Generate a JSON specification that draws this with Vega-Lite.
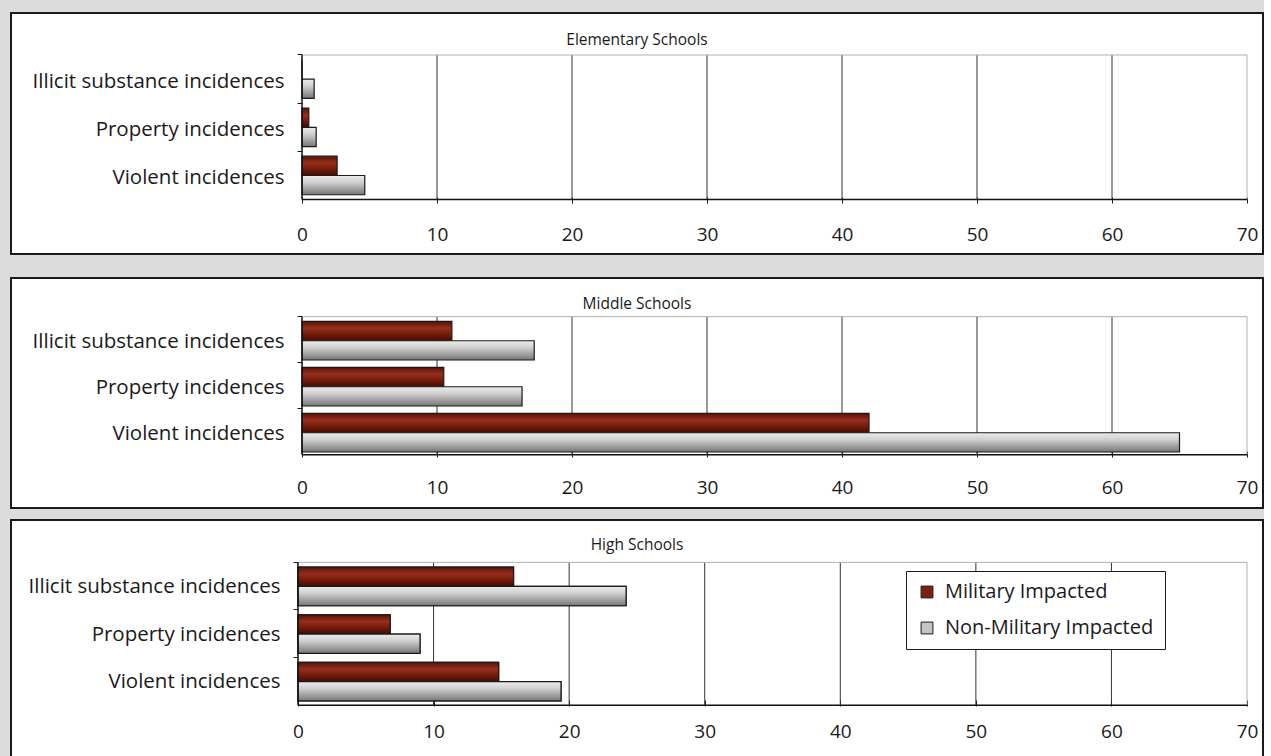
{
  "$schema": "https://vega.github.io/schema/vega-lite/v6.json",
  "background": "#dcdcdc",
  "padding": {"left": 10, "top": 12, "right": 0, "bottom": 0},
  "config": {
    "font": "Open Sans",
    "view": {"fill": "white", "stroke": "#1a1a1a", "strokeWidth": 2},
    "axis": {"labelFont": "Open Sans", "labelColor": "#1a1a1a", "tickColor": "#1a1a1a", "labelFontSize": 20.5},
    "title": {"font": "Open Sans", "fontSize": 15.5, "fontWeight": "normal", "color": "#1a1a1a"}
  },
  "datasets": {
    "incidents": [
      {"level": "Elementary", "category": "Illicit substance incidences", "series": "Military Impacted", "value": 0},
      {"level": "Elementary", "category": "Illicit substance incidences", "series": "Non-Military Impacted", "value": 0.9},
      {"level": "Elementary", "category": "Property incidences", "series": "Military Impacted", "value": 0.5},
      {"level": "Elementary", "category": "Property incidences", "series": "Non-Military Impacted", "value": 1.05},
      {"level": "Elementary", "category": "Violent incidences", "series": "Military Impacted", "value": 2.6},
      {"level": "Elementary", "category": "Violent incidences", "series": "Non-Military Impacted", "value": 4.65},
      {"level": "Middle", "category": "Illicit substance incidences", "series": "Military Impacted", "value": 11.1},
      {"level": "Middle", "category": "Illicit substance incidences", "series": "Non-Military Impacted", "value": 17.2},
      {"level": "Middle", "category": "Property incidences", "series": "Military Impacted", "value": 10.5},
      {"level": "Middle", "category": "Property incidences", "series": "Non-Military Impacted", "value": 16.3},
      {"level": "Middle", "category": "Violent incidences", "series": "Military Impacted", "value": 42.0},
      {"level": "Middle", "category": "Violent incidences", "series": "Non-Military Impacted", "value": 65.0},
      {"level": "High", "category": "Illicit substance incidences", "series": "Military Impacted", "value": 15.9},
      {"level": "High", "category": "Illicit substance incidences", "series": "Non-Military Impacted", "value": 24.2},
      {"level": "High", "category": "Property incidences", "series": "Military Impacted", "value": 6.8},
      {"level": "High", "category": "Property incidences", "series": "Non-Military Impacted", "value": 9.0},
      {"level": "High", "category": "Violent incidences", "series": "Military Impacted", "value": 14.8},
      {"level": "High", "category": "Violent incidences", "series": "Non-Military Impacted", "value": 19.4}
    ],
    "grid": [{"x": 10}, {"x": 20}, {"x": 30}, {"x": 40}, {"x": 50}, {"x": 60}]
  },
  "spacing": 22,
  "vconcat": [
    {
      "width": 1252, "height": 241,
      "title": {"text": "Elementary Schools", "offset": -42, "baseline": "middle", "anchor": "middle", "frame": "group"},
      "layer": [
        {
          "data": {"name": "grid"},
          "mark": {"type": "rule", "color": "#333333", "strokeWidth": 1},
          "encoding": {
            "x": {"field": "x", "type": "quantitative"},
            "y": {"datum": "Illicit substance incidences", "type": "nominal", "bandPosition": 0},
            "y2": {"datum": "Violent incidences", "bandPosition": 1}
          }
        },
        {
          "data": {"values": [{}]},
          "mark": {"type": "rule", "color": "#b0b0b0", "strokeWidth": 1},
          "encoding": {
            "x": {"datum": 70, "type": "quantitative"},
            "y": {"datum": "Illicit substance incidences", "type": "nominal", "bandPosition": 0},
            "y2": {"datum": "Violent incidences", "bandPosition": 1}
          }
        },
        {
          "data": {"values": [{}]},
          "mark": {"type": "rule", "color": "#b0b0b0", "strokeWidth": 1},
          "encoding": {
            "x": {"datum": 0, "type": "quantitative"},
            "x2": {"datum": 70},
            "y": {"datum": "Illicit substance incidences", "type": "nominal", "bandPosition": 0}
          }
        },
        {
          "data": {"name": "incidents"},
          "transform": [{"filter": "datum.level === 'Elementary'"}],
          "mark": {"type": "bar", "stroke": "#1a1a1a", "strokeWidth": 1.2},
          "encoding": {
            "x": {"field": "value", "type": "quantitative",
              "scale": {"domain": [-21.556, 71.185], "nice": false, "zero": false},
              "axis": {"values": [0, 10, 20, 30, 40, 50, 60, 70], "orient": "bottom", "offset": -57, "domain": false, "grid": false, "ticks": true, "tickSize": 6, "labelPadding": 22, "labelFlush": false, "labelFontSize": 19, "title": null}},
            "y": {"field": "category", "type": "nominal",
              "scale": {"domain": ["Illicit substance incidences", "Property incidences", "Violent incidences"], "paddingInner": 0, "paddingOuter": 1.082, "align": 0.4356},
              "axis": {"orient": "left", "offset": -291, "domain": false, "grid": false, "ticks": true, "tickSize": 5, "bandPosition": 0, "labelOffset": 3, "labelPadding": 13, "labelLimit": 400, "labelOverlap": false, "title": null}},
            "yOffset": {"field": "series", "type": "nominal", "scale": {"domain": ["Military Impacted", "Non-Military Impacted"], "paddingInner": 0, "paddingOuter": 0.25}},
            "fill": {
              "condition": {"test": "datum.series === 'Military Impacted'", "value": {"gradient": "linear", "x1": 0, "y1": 0, "x2": 0, "y2": 1, "stops": [{"offset": 0, "color": "#5a1106"}, {"offset": 0.35, "color": "#962f1d"}, {"offset": 0.65, "color": "#761b0c"}, {"offset": 1, "color": "#440c04"}]}},
              "value": {"gradient": "linear", "x1": 0, "y1": 0, "x2": 0, "y2": 1, "stops": [{"offset": 0, "color": "#ececec"}, {"offset": 0.35, "color": "#d0d0d0"}, {"offset": 1, "color": "#767676"}]}
            }
          }
        },
        {
          "data": {"values": [{}]},
          "mark": {"type": "rule", "color": "#111111", "strokeWidth": 1.5},
          "encoding": {
            "x": {"datum": 0, "type": "quantitative"},
            "y": {"datum": "Illicit substance incidences", "type": "nominal", "bandPosition": 0},
            "y2": {"datum": "Violent incidences", "bandPosition": 1}
          }
        },
        {
          "data": {"values": [{}]},
          "mark": {"type": "rule", "color": "#111111", "strokeWidth": 1.5},
          "encoding": {
            "x": {"datum": 0, "type": "quantitative"},
            "x2": {"datum": 70},
            "y": {"datum": "Violent incidences", "type": "nominal", "bandPosition": 1}
          }
        }
      ]
    },
    {
      "spacing": 10,
      "vconcat": [
        {
          "width": 1252, "height": 230,
          "title": {"text": "Middle Schools", "offset": -41, "baseline": "middle", "anchor": "middle", "frame": "group"},
          "layer": [
            {
              "data": {"name": "grid"},
              "mark": {"type": "rule", "color": "#333333", "strokeWidth": 1},
              "encoding": {
                "x": {"field": "x", "type": "quantitative"},
                "y": {"datum": "Illicit substance incidences", "type": "nominal", "bandPosition": 0},
                "y2": {"datum": "Violent incidences", "bandPosition": 1}
              }
            },
            {
              "data": {"values": [{}]},
              "mark": {"type": "rule", "color": "#b0b0b0", "strokeWidth": 1},
              "encoding": {
                "x": {"datum": 70, "type": "quantitative"},
                "y": {"datum": "Illicit substance incidences", "type": "nominal", "bandPosition": 0},
                "y2": {"datum": "Violent incidences", "bandPosition": 1}
              }
            },
            {
              "data": {"values": [{}]},
              "mark": {"type": "rule", "color": "#b0b0b0", "strokeWidth": 1},
              "encoding": {
                "x": {"datum": 0, "type": "quantitative"},
                "x2": {"datum": 70},
                "y": {"datum": "Illicit substance incidences", "type": "nominal", "bandPosition": 0}
              }
            },
            {
              "data": {"name": "incidents"},
              "transform": [{"filter": "datum.level === 'Middle'"}],
              "mark": {"type": "bar", "stroke": "#1a1a1a", "strokeWidth": 1.2},
              "encoding": {
                "x": {"field": "value", "type": "quantitative",
                  "scale": {"domain": [-21.556, 71.185], "nice": false, "zero": false},
                  "axis": {"values": [0, 10, 20, 30, 40, 50, 60, 70], "orient": "bottom", "offset": -57, "domain": false, "grid": false, "ticks": true, "tickSize": 6, "labelPadding": 21, "labelFlush": false, "labelFontSize": 19, "title": null}},
                "y": {"field": "category", "type": "nominal",
                  "scale": {"domain": ["Illicit substance incidences", "Property incidences", "Violent incidences"], "paddingInner": 0, "paddingOuter": 1.12, "align": 0.42},
                  "axis": {"orient": "left", "offset": -291, "domain": false, "grid": false, "ticks": true, "tickSize": 5, "bandPosition": 0, "labelOffset": 2, "labelPadding": 13, "labelLimit": 400, "labelOverlap": false, "title": null}},
                "yOffset": {"field": "series", "type": "nominal", "scale": {"domain": ["Military Impacted", "Non-Military Impacted"], "paddingInner": 0, "paddingOuter": 0.25}},
                "fill": {
                  "condition": {"test": "datum.series === 'Military Impacted'", "value": {"gradient": "linear", "x1": 0, "y1": 0, "x2": 0, "y2": 1, "stops": [{"offset": 0, "color": "#5a1106"}, {"offset": 0.35, "color": "#962f1d"}, {"offset": 0.65, "color": "#761b0c"}, {"offset": 1, "color": "#440c04"}]}},
                  "value": {"gradient": "linear", "x1": 0, "y1": 0, "x2": 0, "y2": 1, "stops": [{"offset": 0, "color": "#ececec"}, {"offset": 0.35, "color": "#d0d0d0"}, {"offset": 1, "color": "#767676"}]}
                }
              }
            },
            {
              "data": {"values": [{}]},
              "mark": {"type": "rule", "color": "#111111", "strokeWidth": 1.5},
              "encoding": {
                "x": {"datum": 0, "type": "quantitative"},
                "y": {"datum": "Illicit substance incidences", "type": "nominal", "bandPosition": 0},
                "y2": {"datum": "Violent incidences", "bandPosition": 1}
              }
            },
            {
              "data": {"values": [{}]},
              "mark": {"type": "rule", "color": "#111111", "strokeWidth": 1.5},
              "encoding": {
                "x": {"datum": 0, "type": "quantitative"},
                "x2": {"datum": 70},
                "y": {"datum": "Violent incidences", "type": "nominal", "bandPosition": 1}
              }
            }
          ]
        },
        {
          "width": 1252, "height": 238,
          "title": {"text": "High Schools", "offset": -40, "baseline": "middle", "anchor": "middle", "frame": "group"},
          "layer": [
            {
              "data": {"name": "grid"},
              "mark": {"type": "rule", "color": "#333333", "strokeWidth": 1},
              "encoding": {
                "x": {"field": "x", "type": "quantitative"},
                "y": {"datum": "Illicit substance incidences", "type": "nominal", "bandPosition": 0},
                "y2": {"datum": "Violent incidences", "bandPosition": 1}
              }
            },
            {
              "data": {"values": [{}]},
              "mark": {"type": "rule", "color": "#b0b0b0", "strokeWidth": 1},
              "encoding": {
                "x": {"datum": 70, "type": "quantitative"},
                "y": {"datum": "Illicit substance incidences", "type": "nominal", "bandPosition": 0},
                "y2": {"datum": "Violent incidences", "bandPosition": 1}
              }
            },
            {
              "data": {"values": [{}]},
              "mark": {"type": "rule", "color": "#b0b0b0", "strokeWidth": 1},
              "encoding": {
                "x": {"datum": 0, "type": "quantitative"},
                "x2": {"datum": 70},
                "y": {"datum": "Illicit substance incidences", "type": "nominal", "bandPosition": 0}
              }
            },
            {
              "data": {"name": "incidents"},
              "transform": [{"filter": "datum.level === 'High'"}],
              "mark": {"type": "bar", "stroke": "#1a1a1a", "strokeWidth": 1.2},
              "encoding": {
                "x": {"field": "value", "type": "quantitative",
                  "scale": {"domain": [-21.17, 71.18], "nice": false, "zero": false},
                  "axis": {"values": [0, 10, 20, 30, 40, 50, 60, 70], "orient": "bottom", "offset": -58, "domain": false, "grid": false, "ticks": true, "tickSize": 6, "labelPadding": 16, "labelFlush": false, "labelFontSize": 19, "title": null}},
                "y": {"field": "category", "type": "nominal",
                  "scale": {"domain": ["Illicit substance incidences", "Property incidences", "Violent incidences"], "paddingInner": 0, "paddingOuter": 1.164, "align": 0.445},
                  "axis": {"orient": "left", "offset": -287, "domain": false, "grid": false, "ticks": true, "tickSize": 5, "bandPosition": 0, "labelOffset": 1, "labelPadding": 13, "labelLimit": 400, "labelOverlap": false, "title": null}},
                "yOffset": {"field": "series", "type": "nominal", "scale": {"domain": ["Military Impacted", "Non-Military Impacted"], "paddingInner": 0, "paddingOuter": 0.25}},
                "color": {"field": "series", "type": "nominal",
                  "scale": {"domain": ["Military Impacted", "Non-Military Impacted"], "range": ["#7d2010", "#c4c4c4"]},
                  "legend": {"orient": "none", "legendX": 895, "legendY": 558, "title": null, "direction": "vertical", "padding": 11, "rowPadding": 16, "strokeColor": "#1a1a1a", "fillColor": "white", "symbolType": "square", "symbolSize": 140, "symbolStrokeColor": "#1a1a1a", "symbolStrokeWidth": 1, "labelFontSize": 20, "labelOffset": 8, "labelColor": "#1a1a1a", "labelLimit": 400, "labelFont": "Open Sans"}}
              }
            },
            {
              "data": {"name": "incidents"},
              "transform": [{"filter": "datum.level === 'High'"}],
              "mark": {"type": "bar", "stroke": "#1a1a1a", "strokeWidth": 1.2},
              "encoding": {
                "x": {"field": "value", "type": "quantitative"},
                "y": {"field": "category", "type": "nominal"},
                "yOffset": {"field": "series", "type": "nominal"},
                "fill": {
                  "condition": {"test": "datum.series === 'Military Impacted'", "value": {"gradient": "linear", "x1": 0, "y1": 0, "x2": 0, "y2": 1, "stops": [{"offset": 0, "color": "#5a1106"}, {"offset": 0.35, "color": "#962f1d"}, {"offset": 0.65, "color": "#761b0c"}, {"offset": 1, "color": "#440c04"}]}},
                  "value": {"gradient": "linear", "x1": 0, "y1": 0, "x2": 0, "y2": 1, "stops": [{"offset": 0, "color": "#ececec"}, {"offset": 0.35, "color": "#d0d0d0"}, {"offset": 1, "color": "#767676"}]}
                }
              }
            },
            {
              "data": {"values": [{}]},
              "mark": {"type": "rule", "color": "#111111", "strokeWidth": 1.5},
              "encoding": {
                "x": {"datum": 0, "type": "quantitative"},
                "y": {"datum": "Illicit substance incidences", "type": "nominal", "bandPosition": 0},
                "y2": {"datum": "Violent incidences", "bandPosition": 1}
              }
            },
            {
              "data": {"values": [{}]},
              "mark": {"type": "rule", "color": "#111111", "strokeWidth": 1.5},
              "encoding": {
                "x": {"datum": 0, "type": "quantitative"},
                "x2": {"datum": 70},
                "y": {"datum": "Violent incidences", "type": "nominal", "bandPosition": 1}
              }
            }
          ]
        }
      ]
    }
  ]
}
